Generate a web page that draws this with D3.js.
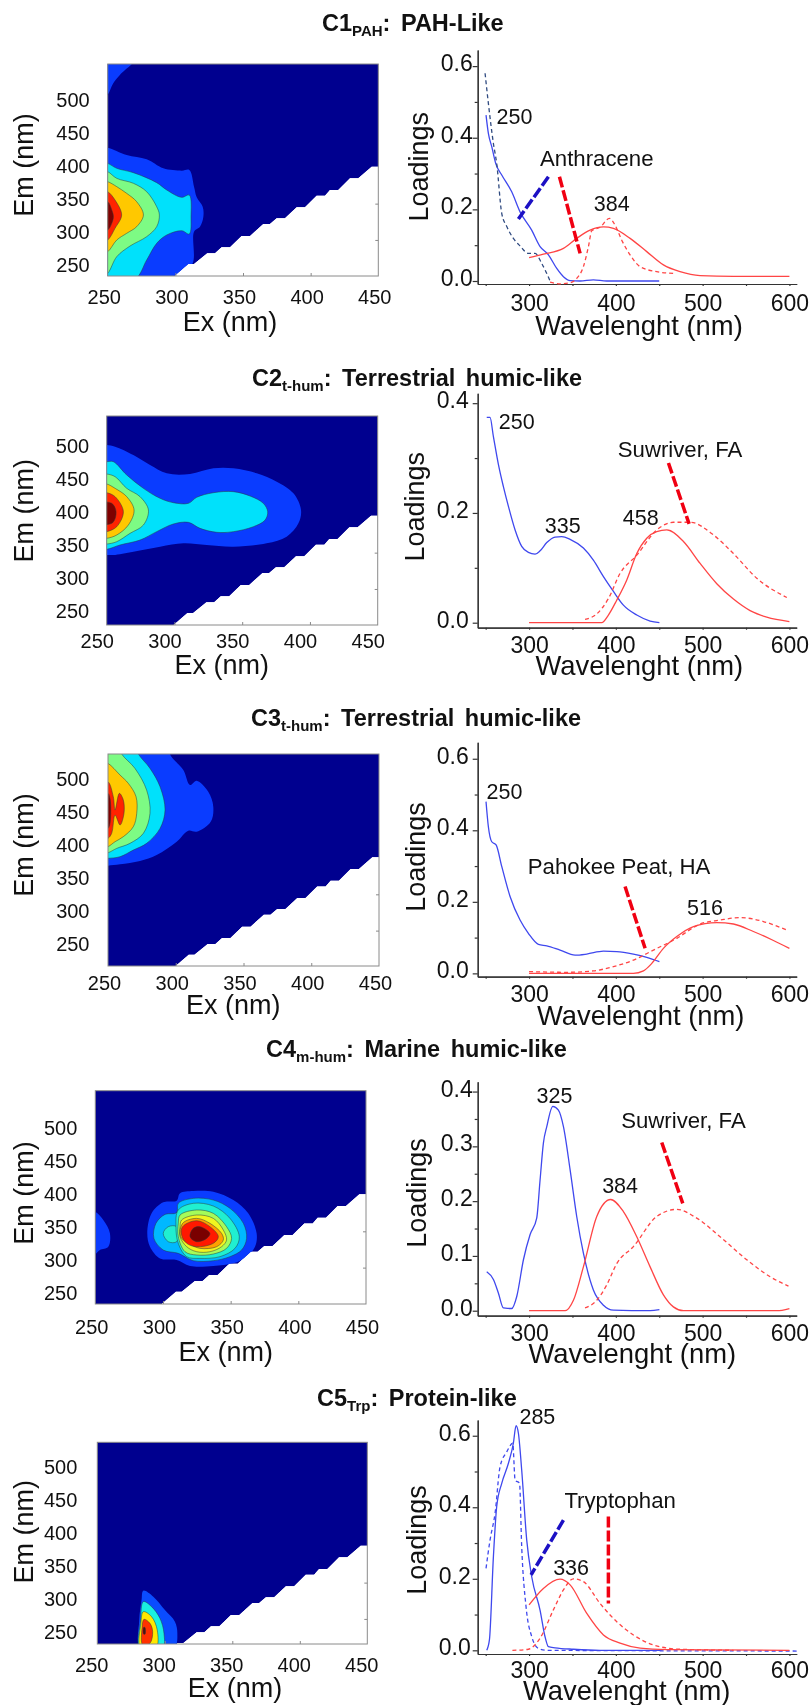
<!DOCTYPE html>
<html>
<head>
<meta charset="utf-8">
<title>EEM components</title>
<script src="https://cdn.jsdelivr.net/npm/d3@7"></script>
<style>
    body { margin: 0; background: #fff; }
    svg { display: block; filter: blur(0.4px); }
    text { font-family: "Liberation Sans", Arial, sans-serif; fill: #111; }
</style>
</head>
<body>
<svg id="chart" width="811" height="1705"></svg>
<script>
// shared tick values
var exTicks = [250, 300, 350, 400, 450],
    emTicks = [250, 300, 350, 400, 450, 500],
    emFrameTicks = [289, 344],
    wlTicks = [300, 400, 500, 600],
    wlMinorTicks = [250, 350, 450, 550];

// lower edge of the measured Ex/Em region, [ex, em]
var scatterEdge = [[298,232],[309.6,252.5],[313.8,252.5],[323.6,268.7],[329.3,268.7],[334.2,277.8],[340.4,277.8],[349,295],[355.2,295],[365,313.1],[369.9,313.1],[374.9,321.7],[381,321.7],[389.7,338.4],[395.8,338.4],[404.4,356],[410.6,356],[414.3,364.7],[420.4,364.7],[429.1,382.3],[435.2,382.3],[445.1,400],[452,400]];

// contour levels, low to high: [level, ring of [ex, em]]
var c1Contours = [
    [1, [[245,565],[271,565],[259,539],[254,526],[250,509],[245,500]]],
    [1, [[245,429],[250,428.8],[264,417.7],[278.8,411.1],[291.1,397.5],[304.7,393.9],[310.3,395],[313.8,369.7],[315.8,353.5],[320.2,339.4],[320.7,324.3],[318.2,309.1],[313.8,301.5],[312.8,253.6],[304.7,240],[299.8,225],[245,225]]],
    [2, [[245,407],[250,405],[256.7,397.5],[269,390.9],[286.2,375.8],[293.6,364.7],[304.7,353.5],[310.3,357],[311.6,324.3],[310.3,298],[304.7,303],[293.6,296.5],[286.2,283.9],[278.8,258.6],[270.2,230],[245,230]]],
    [3, [[245,394],[250,392.4],[256.7,382.3],[269,374.8],[278.8,362.1],[286.2,339.4],[288.2,326.8],[286.2,309.1],[278.8,294],[266.5,279.8],[256.7,263.7],[250,238.4],[245,232]]],
    [4, [[245,379],[250,377.3],[256.7,369.7],[264,359.6],[271.4,347],[276.4,326.8],[271.4,309.1],[264,299],[256.7,288.9],[250,271.2],[245,268]]],
    [5, [[245,364],[250,362.1],[255.4,349.5],[260.3,326.8],[255.4,306.6],[250,288.9],[245,286]]],
    [6, [[245,349],[250,347],[253,334.4],[254.2,324.3],[253,314.2],[250,304],[245,302]]]
];
var c2Contours = [
    [1, [[245,507],[250,507.1],[256.2,504.5],[269.7,491.9],[282,476.8],[294.3,464.1],[311.5,463.1],[328.7,471.7],[343.5,471.7],[360.7,464.1],[375.5,451.5],[387.8,433.8],[393.4,408.6],[391.5,388.4],[382.8,368.2],[368,358.1],[343.5,353],[323.8,355.6],[306.6,358.1],[289.4,353],[269.7,345.5],[254.9,340.4],[250,340.4],[245,340]]],
    [2, [[245,482],[250,481.8],[254.9,481.8],[264.8,461.6],[277.1,441.4],[289.4,426.3],[299.2,419.7],[310.3,418.7],[316.4,427.8],[328.7,434.8],[343.5,436.4],[355.8,429.8],[365.6,418.7],[368.8,406.1],[366.9,393.4],[358.2,383.3],[343.5,375.8],[331.2,374.8],[318.9,380.8],[310.3,389.9],[299.2,387.4],[286.9,375.8],[274.6,363.1],[259.8,355.6],[250,349],[245,349]]],
    [3, [[245,463],[250,463.1],[256.2,459.1],[264.8,441.4],[274.6,428.8],[280.8,408.6],[277.1,385.9],[267.2,373.2],[257.4,360.6],[250,357],[245,357]]],
    [4, [[245,448],[250,448],[256.2,441.4],[264.8,428.8],[270.2,408.6],[266,385.9],[257.4,370.7],[250,365.7],[245,365.7]]],
    [5, [[245,435],[250,434.8],[256.2,428.8],[262.3,406.1],[257.4,383.3],[250,375.8],[245,375.8]]],
    [6, [[245,418.7],[253.7,418.7],[256.9,406.1],[254.4,389.4],[245,388.4]]]
];
var c3Contours = [
    [1, [[245,570],[297,570],[295.8,556.6],[305.6,532.3],[310.5,509.6],[315.4,516.2],[324,499.5],[327.7,476.8],[325.8,454],[315.4,438.9],[309.3,440.4],[300.7,423.7],[285.9,403.5],[273.6,394.4],[258.9,389.4],[250,387.4],[245,387]]],
    [2, [[245,570],[270,570],[272.4,556.6],[281,534.8],[288.4,507.1],[292.1,471.7],[288.4,443.9],[278.5,421.2],[268.7,411.1],[258.9,401],[250,398.5],[245,398]]],
    [3, [[245,570],[258,570],[260.1,556.6],[269.9,534.8],[278.5,502],[281,466.7],[276.1,436.4],[266.2,421.2],[256.4,413.6],[250,407],[245,406]]],
    [4, [[245,545],[250,542.4],[258.9,524.7],[265,512.1],[270.7,491.9],[271.2,466.7],[268.7,446.5],[261.3,431.3],[255.2,423.7],[250,416.2],[245,414]]],
    [5, [[245,516],[250,514.6],[253.9,491.9],[255.2,471.7],[258.4,497],[261.3,486.9],[261.8,466.7],[258.9,449],[255.2,464.1],[252.7,436.4],[250,428.8],[245,427]]],
    [6, [[245,497],[250,497],[252,466.7],[250,443.9],[245,443.9]]]
];
var c4Contours = [
    [1, [[245,375],[250,373.7],[255.9,361.1],[260.8,340.9],[259.6,320.7],[253.4,315.7],[250,309.6],[245,308]]],
    [1, [[312.6,401.5],[322.4,405],[337.2,404],[352,391.4],[363,371.2],[369.2,340.9],[368,320.7],[361.8,305.6],[352,295.5],[337.2,291.4],[320,291.4],[310.1,300.5],[297.8,303],[290.4,320.7],[288.4,340.9],[291.6,371.2],[300.2,387.9],[310.1,390.4]]],
    [2, [[311.3,386.4],[322.4,393.9],[337.2,391.4],[349.5,378.8],[359.4,356.1],[361.8,333.3],[358.1,315.7],[349.5,305.6],[337.2,299.5],[322.4,299.5],[311.3,310.6],[300.2,315.7],[293.3,333.3],[294.8,356.1],[301.5,369.6],[310.1,372.2]]],
    [3, [[310.1,351],[303.9,351],[300.2,340.9],[303.9,328.3],[310.1,328.3]]],
    [3, [[311.3,376.3],[322.4,386.4],[337.2,382.3],[349.5,363.6],[356.4,335.9],[353.2,318.2],[342.1,305.6],[327.3,303],[317.5,305.6],[311.3,325.8],[309.6,351]]],
    [4, [[312.6,368.7],[324.9,376.3],[337.2,371.2],[347,351],[350.7,333.3],[347,318.2],[337.2,309.6],[324.9,308.1],[316.3,313.1],[311.3,335.9],[311.3,356.1]]],
    [5, [[313.8,361.1],[324.9,368.7],[337.2,363.6],[344.6,346],[347,330.8],[343.3,320.7],[334.7,313.1],[324.9,313.1],[317.5,320.7],[312.6,335.9],[312.6,351]]],
    [6, [[314.5,356.1],[324.9,363.6],[334.7,356.1],[343.3,340.9],[344.6,330.8],[339.7,320.7],[327.3,318.2],[318.7,325.8],[313,335.9]]],
    [7, [[314.5,351],[324.9,360.1],[334.7,351],[340.9,335.9],[337.2,325.8],[324.9,320.7],[317.5,325.8],[313.8,338.4]]],
    [8, [[322.4,348.5],[327.3,351],[334.7,340.9],[332.3,333.3],[324.9,328.3],[320,335.9]]]
];
var c5Contours = [
    [1, [[284.1,331.8],[291.5,322.7],[300.1,302.5],[307.5,284.9],[309.3,267.2],[307,245],[282,245],[281.1,287.4],[282.8,317.7]]],
    [2, [[284.1,315.2],[290.2,307.6],[296.4,289.9],[299.4,267.2],[298.4,245],[281.6,245],[282.1,287.4]]],
    [3, [[284.1,300],[290.2,292.4],[294.4,272.2],[293.5,245],[282,245],[282.3,282.3]]],
    [4, [[284.6,288.4],[289,282.3],[291,269.7],[289,252],[283.6,249.5],[283.1,274.8]]],
    [5, [[284.3,276],[285.3,276],[285.4,266],[284.3,266]]]
];

// spectra, [wavelength, loading]
var c1Ex = [[250.4,.463],[253.1,.412],[257,.375],[261.6,.328],[268.5,.296],[280,.249],[289.6,.193],[303,.142],[312.7,.096],[322.3,.073],[331.9,.035],[339.6,.012],[347.3,.001],[358.8,0],[374,.003],[389.5,0],[450,0]],
    c1ExRef = [[249.3,.58],[253.1,.496],[258.9,.384],[262.7,.328],[268.5,.189],[274.3,.152],[281.9,.119],[289.6,.098],[299.2,.077],[306.9,.077],[314.6,.049],[324.2,0]],
    c1Em = [[300,.065],[316.5,.075],[339.6,.091],[354.9,.119],[370.3,.142],[385.7,.151],[397.2,.147],[416.4,.119],[435.6,.082],[454.8,.045],[474,.026],[497,.015],[535.5,.013],[600,.013]],
    c1EmRef = [[324.2,-.003],[335.7,-.008],[347.3,-.005],[354.9,.007],[362.6,.04],[368.4,.096],[372.2,.14],[381.8,.15],[392.6,.175],[399.1,.156],[406.8,.114],[416.4,.073],[427.9,.04],[447.1,.026],[466.3,.021]];

var c2Ex = [[251.2,.374],[255,.374],[258.9,.339],[264.7,.288],[270.4,.248],[276.2,.212],[283.9,.169],[291.5,.139],[299.2,.128],[306.9,.125],[312.7,.131],[320.4,.146],[330,.156],[337.6,.157],[347.3,.152],[362.6,.136],[374.1,.114],[385.7,.084],[397.2,.057],[408.7,.032],[424.1,.014],[439.5,.003],[450.2,0]],
    c2Em = [[300,0],[383.7,0],[391.4,.014],[401,.041],[412.6,.078],[424.1,.126],[435.6,.154],[447.1,.166],[458.7,.169],[477.9,.148],[497.1,.108],[516.3,.071],[535.5,.043],[554.7,.022],[573.9,.01],[600,.002]],
    c2EmRef = [[364.5,.006],[378,.016],[391.4,.044],[404.9,.09],[424.1,.123],[447.1,.169],[466.3,.183],[485.6,.183],[512.4,.16],[535.5,.126],[562.4,.081],[597,.046]];

var c3Ex = [[250.4,.48],[253.1,.41],[257,.368],[262,.359],[268.5,.299],[278.1,.215],[289.6,.149],[299.2,.112],[310.8,.081],[320.4,.077],[335.7,.065],[353,.051],[366.5,.054],[385.7,.062],[401,.061],[420.2,.054],[435.6,.045],[450.2,.033]],
    c3Em = [[300,0],[420.2,0],[431.8,.007],[441.4,.028],[454.8,.07],[470.2,.103],[489.4,.131],[516.3,.142],[535.5,.138],[558.5,.117],[581.6,.092],[600,.07]],
    c3EmRef = [[300,.005],[343.4,.003],[374.1,.007],[397.2,.019],[420.2,.037],[443.3,.065],[470.2,.098],[497.1,.138],[520.1,.149],[543.2,.156],[570,.145],[597,.121]];

var c4Ex = [[251.2,.071],[258.9,.057],[264.7,.032],[270.4,.005],[280,.004],[285.8,.026],[293.5,.093],[301.2,.139],[308.8,.169],[312.7,.239],[316.5,.306],[320.4,.336],[327.3,.373],[333.8,.366],[339.6,.336],[347.3,.257],[354.9,.172],[362.6,.105],[374.1,.038],[385.7,.01],[397.2,.001],[439.5,0],[450.2,.002]],
    c4Em = [[300,0],[341.5,0],[351.1,.019],[362.6,.08],[378,.172],[394,.203],[408.7,.181],[424.1,.135],[439.5,.08],[454.8,.029],[466.3,.007],[477.9,0],[585.4,0],[600,.004]],
    c4EmRef = [[364.5,.005],[378,.019],[389.5,.047],[401,.086],[420.2,.117],[447.1,.172],[470.2,.185],[493.2,.169],[520.1,.135],[550.9,.093],[577.8,.062],[598.9,.045]];

var c5Ex = [[251.2,0],[254.3,.029],[258.9,.262],[262.7,.402],[268.5,.467],[276.2,.523],[281.9,.579],[285,.628],[287.7,.607],[291.5,.504],[297.3,.308],[303.1,.205],[312.7,.112],[318.4,.038],[322.3,.01],[330,.007],[351.1,.003],[381.8,0],[451,0]],
    c5ExRef = [[250.4,.229],[255,.308],[260.8,.383],[266.6,.514],[274.3,.555],[281.2,.579],[283.9,.476],[289,.467],[291.5,.29],[296.5,.122],[303.1,.038],[310.8,.005],[320.4,0],[610,-.002]],
    c5Em = [[300,.127],[316.5,.173],[335.7,.199],[347.3,.183],[366.5,.103],[385.7,.043],[404.9,.02],[428,.006],[458.7,.002],[600,0]],
    c5EmRef = [[280.8,0],[299.2,.003],[312.7,.034],[328,.113],[339.6,.169],[351.1,.2],[362.6,.192],[381.8,.131],[401,.08],[420.2,.043],[443.3,.015],[474,.003],[535.5,0]];

// text on the spectra: [text, wavelength, loading]
var c1Notes = [["250",283.1,.457],["Anthracene",378,.342],["384",395.3,.214]],
    c2Notes = [["250",285.8,.365],["Suwriver, FA",474,.316],["335",338.8,.176],["458",428.7,.191]],
    c3Notes = [["250",271.6,.506],["Pahokee Peat, HA",403.7,.30],["516",502.8,.184]],
    c4Notes = [["325",329.2,.391],["Suwriver, FA",477.9,.347],["384",404.9,.228]],
    c5Notes = [["285",309.6,.651],["Tryptophan",404.9,.418],["336",348.4,.229]];

// thick dashed leaders: ["ex" or "em", [wavelength, loading], [wavelength, loading]]
var c1Leaders = [["ex",[322.3,.291],[287.7,.173]],["em",[335,.291],[358.8,.077]]],
    c2Leaders = [["em",[460.6,.291],[484.4,.18]]],
    c3Leaders = [["em",[410.6,.243],[433.7,.07]]],
    c4Leaders = [["em",[452.9,.307],[477.1,.196]]],
    c5Leaders = [["ex",[339.6,.364],[302.3,.211]],["em",[391.4,.374],[391.4,.131]]];

var palette7 = ["#00008f", "#0a3cff", "#00e1fb", "#7dfb84", "#ffc800", "#ff2200", "#7f0000"],
    palette9 = ["#00008f", "#0a3cff", "#00b8ff", "#20efd0", "#a5fb5a", "#f0f520", "#ffa000", "#ff1800", "#7a0000"],
    palette5 = ["#00008f", "#0a4cff", "#19f0e0", "#ffe800", "#ff3000", "#501010"],
    BLUE = "#3f48ee", RED = "#ff4545", NAVY = "#2f4a80";

// layout of each row
var rows = [
    {
        title: ["C1", "PAH", ": PAH-Like"], titleX: 322, titleY: 31,
        contours: c1Contours, palette: palette7,
        map: { x0: 107.7, x1: 378.3, y0: 276, y1: 64, em0: 234.4, em1: 555.5, labelShift: -1, emPad: 18, exPad: 14, exDx: -4, exTitle: [230, 322], emTitle: [23.5, 165] },
        spec: { y0: 284, y1: 50, v0: -.0084, v1: .645, ticks: [0, .2, .4, .6], minor: [.1, .3, .5], pad: 5, xPad: 11, title: [419, 166.7], xTitle: [639, 325] },
        series: [[c1Ex, BLUE, false], [c1ExRef, NAVY, true], [c1Em, RED, false], [c1EmRef, RED, true]],
        notes: c1Notes, leaders: c1Leaders
    },
    {
        title: ["C2", "t-hum", ": Terrestrial humic-like"], titleX: 252, titleY: 386,
        contours: c2Contours, palette: palette7,
        map: { x0: 106.7, x1: 377.7, y0: 625, y1: 416, em0: 234.4, em1: 551, labelShift: -6, emPad: 17.5, exPad: 9, exDx: -10, exTitle: [221.7, 665], emTitle: [23.5, 510.7] },
        spec: { y0: 627.7, y1: 393.3, v0: -.0091, v1: .418, ticks: [0, .2, .4], minor: [.1, .3], pad: 9, xPad: 9, title: [415, 506.7], xTitle: [639.3, 665] },
        series: [[c2Ex, BLUE, false], [c2Em, RED, false], [c2EmRef, RED, true]],
        notes: c2Notes, leaders: c2Leaders
    },
    {
        title: ["C3", "t-hum", ": Terrestrial humic-like"], titleX: 251, titleY: 726,
        contours: c3Contours, palette: palette7,
        map: { x0: 108, x1: 379, y0: 966, y1: 754, em0: 235.4, em1: 556.6, labelShift: -18.7, emPad: 18.5, exPad: 9.5, exDx: -4, exTitle: [233.3, 1005], emTitle: [23.5, 845] },
        spec: { y0: 976.7, y1: 742.3, v0: -.0093, v1: .646, ticks: [0, .2, .4, .6], minor: [.1, .3, .5], pad: 9, xPad: 9, title: [415.7, 857], xTitle: [640.7, 1015] },
        series: [[c3Ex, BLUE, false], [c3Em, RED, false], [c3EmRef, RED, true]],
        notes: c3Notes, leaders: c3Leaders
    },
    {
        title: ["C4", "m-hum", ": Marine humic-like"], titleX: 266, titleY: 1057,
        contours: c4Contours, palette: palette9,
        map: { x0: 95.3, x1: 366, y0: 1304, y1: 1090.7, em0: 233.9, em1: 557, labelShift: 0, emPad: 18, exPad: 15.5, exDx: -4, exTitle: [225.7, 1352], emTitle: [23.5, 1193] },
        spec: { y0: 1315.7, y1: 1081.7, v0: -.0091, v1: .418, ticks: [0, .1, .2, .3, .4], minor: [.05, .15, .25, .35], pad: 5, xPad: 8.5, title: [416.7, 1193], xTitle: [632.3, 1353.3] },
        series: [[c4Ex, BLUE, false], [c4Em, RED, false], [c4EmRef, RED, true]],
        notes: c4Notes, leaders: c4Leaders
    },
    {
        title: ["C5", "Trp", ": Protein-like"], titleX: 317, titleY: 1406,
        contours: c5Contours, palette: palette5,
        map: { x0: 97.3, x1: 367.3, y0: 1644, y1: 1442.3, em0: 251, em1: 556.6, labelShift: -19.7, emPad: 20, exPad: 14, exDx: -6, exTitle: [235, 1688], emTitle: [23.5, 1531.7] },
        spec: { y0: 1654, y1: 1420, v0: -.0103, v1: .644, ticks: [0, .2, .4, .6], minor: [.1, .3, .5], pad: 7, xPad: 7.5, title: [417, 1540], xTitle: [626.7, 1690] },
        series: [[c5Ex, BLUE, false], [c5ExRef, BLUE, true], [c5Em, RED, false], [c5EmRef, RED, true]],
        notes: c5Notes, leaders: c5Leaders
    }
];

var svg = d3.select("#chart");

function addTitle(row) {
    var t = svg.append("text")
        .attr("x", row.titleX).attr("y", row.titleY)
        .attr("font-size", 23.5).attr("font-weight", "bold")
        .attr("word-spacing", 4);
    t.append("tspan").text(row.title[0]);
    t.append("tspan").attr("font-size", 15).attr("dy", 5).text(row.title[1]);
    t.append("tspan").attr("dy", -5).text(row.title[2]);
}

function addAxisTitle(pos, label, size, rotated) {
    svg.append("text")
        .attr("transform", "translate(" + pos[0] + "," + pos[1] + ")" + (rotated ? " rotate(-90)" : ""))
        .attr("text-anchor", "middle")
        .attr("dominant-baseline", "central")
        .attr("font-size", size)
        .text(label);
}

function drawMap(row, i) {
    var m = row.map,
        x = d3.scaleLinear().domain([250, 450]).range([m.x0, m.x1]),
        y = d3.scaleLinear().domain([m.em0, m.em1]).range([m.y0, m.y1]),
        yLabels = y.copy().domain([m.em0 + m.labelShift, m.em1 + m.labelShift]),
        g = svg.append("g"),
        linear = d3.line().x(function (d) { return x(d[0]); }).y(function (d) { return y(d[1]); }),
        smooth = d3.line().x(function (d) { return x(d[0]); }).y(function (d) { return y(d[1]); })
            .curve(d3.curveCatmullRomClosed.alpha(0.5)),
        region = linear(scatterEdge.concat([[452, m.em1 + 20], [248, m.em1 + 20], [248, m.em0 - 20]])) + "Z";

    var defs = svg.append("defs");
    defs.append("clipPath").attr("id", "frame" + i).append("rect")
        .attr("x", m.x0).attr("y", m.y1).attr("width", m.x1 - m.x0).attr("height", m.y0 - m.y1);
    defs.append("clipPath").attr("id", "region" + i).append("path").attr("d", region);

    var plot = g.append("g").attr("clip-path", "url(#frame" + i + ")")
        .append("g").attr("clip-path", "url(#region" + i + ")");
    plot.append("path").attr("d", region).attr("fill", row.palette[0]);
    plot.selectAll("path.level").data(row.contours).enter().append("path")
        .attr("class", "level")
        .attr("d", function (d) { return smooth(d[1]); })
        .attr("fill", function (d) { return row.palette[d[0]]; })
        .attr("stroke", function (d) { return d[0] > 1 ? "#2a3a3a" : "none"; })
        .attr("stroke-width", 0.5);

    g.append("rect")
        .attr("x", m.x0).attr("y", m.y1).attr("width", m.x1 - m.x0).attr("height", m.y0 - m.y1)
        .attr("fill", "none").attr("stroke", "#8a8a8a").attr("stroke-width", 1);

    // inward ticks, then labels moved off them as in the pasted figure
    g.append("g").attr("transform", "translate(0," + m.y0 + ")")
        .call(d3.axisBottom(x).tickValues(exTicks.slice(1, 4)).tickSize(-3).tickSizeOuter(0).tickFormat(""))
        .call(function (s) { s.select(".domain").remove(); s.selectAll("line").attr("stroke", "#8a8a8a"); });
    g.append("g").attr("transform", "translate(" + m.x1 + ",0)")
        .call(d3.axisRight(y).tickValues(emFrameTicks).tickSize(-3).tickSizeOuter(0).tickFormat(""))
        .call(function (s) { s.select(".domain").remove(); s.selectAll("line").attr("stroke", "#8a8a8a"); });

    g.append("g").attr("transform", "translate(" + m.exDx + "," + m.y0 + ")")
        .call(d3.axisBottom(x).tickValues(exTicks).tickSize(0).tickPadding(m.exPad))
        .call(function (s) { s.select(".domain").remove(); s.selectAll("text").attr("font-size", 20).attr("font-family", null); });
    g.append("g").attr("transform", "translate(" + m.x0 + ",0)")
        .call(d3.axisLeft(yLabels).tickValues(emTicks).tickSize(0).tickPadding(m.emPad))
        .call(function (s) { s.select(".domain").remove(); s.selectAll("text").attr("font-size", 20).attr("font-family", null); });

    addAxisTitle(m.exTitle, "Ex (nm)", 27);
    addAxisTitle(m.emTitle, "Em (nm)", 27, true);
}

function drawSpectra(row) {
    var s = row.spec,
        x = d3.scaleLinear().domain([240.8, 608.4]).range([477.7, 796.7]),
        y = d3.scaleLinear().domain([s.v0, s.v1]).range([s.y0, s.y1]),
        g = svg.append("g"),
        line = d3.line().x(function (d) { return x(d[0]); }).y(function (d) { return y(d[1]); }).curve(d3.curveMonotoneX);

    function styleAxis(sel) {
        sel.selectAll(".domain, line").attr("stroke", "#333").attr("stroke-width", 1.2);
        sel.selectAll("text").attr("font-size", 23).attr("font-family", null);
    }

    g.append("g").attr("transform", "translate(0," + s.y0 + ")")
        .call(d3.axisBottom(x).tickValues(wlMinorTicks).tickSize(2).tickSizeOuter(0).tickFormat(""))
        .call(styleAxis);
    g.append("g").attr("transform", "translate(0," + s.y0 + ")")
        .call(d3.axisBottom(x).tickValues(wlTicks).tickSize(2).tickSizeOuter(0).tickPadding(s.xPad - 2))
        .call(styleAxis);
    g.append("g").attr("transform", "translate(477.7,0)")
        .call(d3.axisLeft(y).tickValues(s.minor).tickSize(3).tickSizeOuter(0).tickFormat(""))
        .call(styleAxis);
    g.append("g").attr("transform", "translate(477.7,0)")
        .call(d3.axisLeft(y).tickValues(s.ticks).tickSize(5).tickSizeOuter(0).tickPadding(s.pad - 5).tickFormat(d3.format(".1f")))
        .call(styleAxis)
        .call(function (a) { a.selectAll("text").attr("dy", "0.2em"); });

    g.selectAll("path.spectrum").data(row.series).enter().append("path")
        .attr("class", "spectrum")
        .attr("d", function (d) { return line(d[0]); })
        .attr("fill", "none")
        .attr("stroke", function (d) { return d[1]; })
        .attr("stroke-width", 1.3)
        .attr("stroke-dasharray", function (d) { return d[2] ? "4,3" : null; });

    g.selectAll("line.leader").data(row.leaders).enter().append("line")
        .attr("class", "leader")
        .attr("x1", function (d) { return x(d[1][0]); })
        .attr("y1", function (d) { return y(d[1][1]); })
        .attr("x2", function (d) { return x(d[2][0]); })
        .attr("y2", function (d) { return y(d[2][1]); })
        .attr("stroke", function (d) { return d[0] === "ex" ? "#1c10c4" : "#f00012"; })
        .attr("stroke-width", 3.5)
        .attr("stroke-dasharray", "11,3");

    g.selectAll("text.note").data(row.notes).enter().append("text")
        .attr("class", "note")
        .attr("x", function (d) { return x(d[1]); })
        .attr("y", function (d) { return y(d[2]); })
        .attr("text-anchor", "middle")
        .attr("dominant-baseline", "central")
        .attr("font-size", function (d) { return d[0].length > 3 ? 22.2 : 21.5; })
        .text(function (d) { return d[0]; });

    addAxisTitle(s.xTitle, "Wavelenght (nm)", 27.4);
    addAxisTitle(s.title, "Loadings", 27, true);
}

rows.forEach(function (row, i) {
    addTitle(row);
    drawMap(row, i);
    drawSpectra(row);
});
</script>
</body>
</html>
